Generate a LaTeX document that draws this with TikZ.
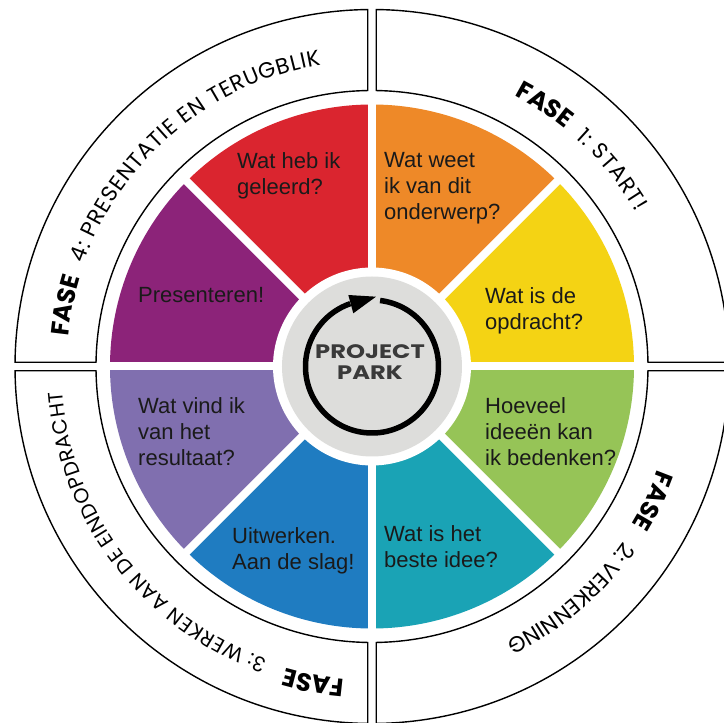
\documentclass[tikz,border=0pt]{standalone}
\usepackage{fontspec}
\setmainfont{Liberation Sans}
\newfontfamily\popfont{Poppins}
\usetikzlibrary{decorations.text, arrows.meta}
\definecolor{wred}{HTML}{DA252F}
\definecolor{worange}{HTML}{EE8928}
\definecolor{wyellow}{HTML}{F4D314}
\definecolor{wgreen}{HTML}{96C457}
\definecolor{wteal}{HTML}{1AA3B5}
\definecolor{wblue}{HTML}{1F7CC1}
\definecolor{wlav}{HTML}{806FAF}
\definecolor{wpurple}{HTML}{8C2379}
\definecolor{cgrey}{HTML}{DDDDDB}
\definecolor{ptext}{HTML}{3A3A3A}
\definecolor{txtc}{HTML}{1A1A1A}
\newcommand\ringreg{\popfont\fontsize{22}{24}\selectfont}
\newcommand\ringregs{\popfont\fontsize{20.5}{24}\selectfont}
\newcommand\ringbold{\popfont\bfseries\fontsize{25}{27}\selectfont}
\tikzset{
  ringline/.style={draw=black, line width=1.4pt, fill=white},
  wtext/.style={font=\fontsize{22}{26}\selectfont, align=left, inner sep=0pt, anchor=north west, text=txtc},
  rtext/.style={decorate, decoration={text along path, text align=fit to path, text={|\ringreg|#1}}},
  rtexts/.style={decorate, decoration={text along path, text align=fit to path, text={|\ringregs|#1}}},
  ftext/.style={decorate, decoration={text along path, text align=center, text={|\ringbold|FASE}}},
}
\begin{document}
\begin{tikzpicture}[x=1pt,y=1pt]
\useasboundingbox (-372,-356.5) rectangle (352,366.5);
\fill[white] (-372,-356.5) rectangle (352,366.5);
% outer ring quadrants
\foreach \r in {0,90,180,270}{
  \draw[ringline, rotate=\r] ({acos(4.25/357)}:357pt)
    arc[start angle={acos(4.25/357)}, end angle={asin(4.25/357)}, radius=357pt]
    -- ({asin(4.25/276)}:276pt)
    arc[start angle={asin(4.25/276)}, end angle={acos(4.25/276)}, radius=276pt] -- cycle;
}
% wedges
\foreach \a/\c in {90/wred,45/worange,0/wyellow,-45/wgreen,-90/wteal,-135/wblue,180/wlav,135/wpurple}{
  \fill[\c] (0,0) -- (\a:262pt) arc[start angle=\a, end angle=\a+45, radius=262pt] -- cycle;
}
\foreach \a in {0,45,...,315}{
  \draw[white, line width=8pt] (0,0) -- (\a:268pt);
}
\fill[white] (0,0) circle[radius=99pt];
\fill[cgrey] (0,0) circle[radius=90pt];
% cycle arrow
\draw[line width=5.5pt] (83:66.5pt) arc[start angle=83, end angle=-251, radius=66.5pt];
\fill[black] (4,69.8) -- (-23.7,71.5) -- (-18.7,53.2) -- cycle;
\node[font=\popfont\bfseries\fontsize{19.5}{21}\selectfont, text=ptext, align=center] (pp) at (-2,4) {\scalebox{1.24}[1]{PROJECT}\\\scalebox{1.24}[1]{PARK}};
% wedge texts
\node[wtext] (t1) at (-135,214.5) {Wat heb ik\\geleerd?};
\node[wtext] (t2) at (12,214.5) {Wat weet\\ik van dit\\onderwerp?};
\node[wtext] (t3) at (113,79.5) {Wat is de\\opdracht?};
\node[wtext] (t4) at (113,-30.5) {Hoeveel\\ideeën kan\\ik bedenken?};
\node[wtext] (t5) at (12,-158.5) {Wat is het\\beste idee?};
\node[wtext] (t6) at (-140,-160.5) {Uitwerken.\\Aan de slag!};
\node[wtext] (t7) at (-234,-30.5) {Wat vind ik\\van het\\resultaat?};
\node[wtext] (t8) at (-234,79.5) {Presenteren!};
% ring texts
\path[ftext] (178.7:305pt) arc[start angle=178.7, end angle=158.7, radius=305pt];
\path[rtext={4: PRESENTATIE EN TERUGBLIK}] (160.3:306pt) arc[start angle=160.3, end angle=99.6, radius=306pt];
\path[ftext] (66.6:306pt) arc[start angle=66.6, end angle=46.6, radius=306pt];
\path[rtext={1: START!}] (48.3:306pt) arc[start angle=48.3, end angle=30.3, radius=306pt];
\path[ftext] (-15.6:304pt) arc[start angle=-15.6, end angle=-35.6, radius=304pt];
\path[rtext={2: VERKENNING}] (-34.8:306pt) arc[start angle=-34.8, end angle=-64, radius=306pt];
\path[ftext] (269.5:314pt) arc[start angle=269.5, end angle=249.5, radius=314pt];
\path[rtexts={3: WERKEN AAN DE EINDOPDRACHT}] (250.3:311pt) arc[start angle=250.3, end angle=184.6, radius=311pt];
\end{tikzpicture}
\end{document}
